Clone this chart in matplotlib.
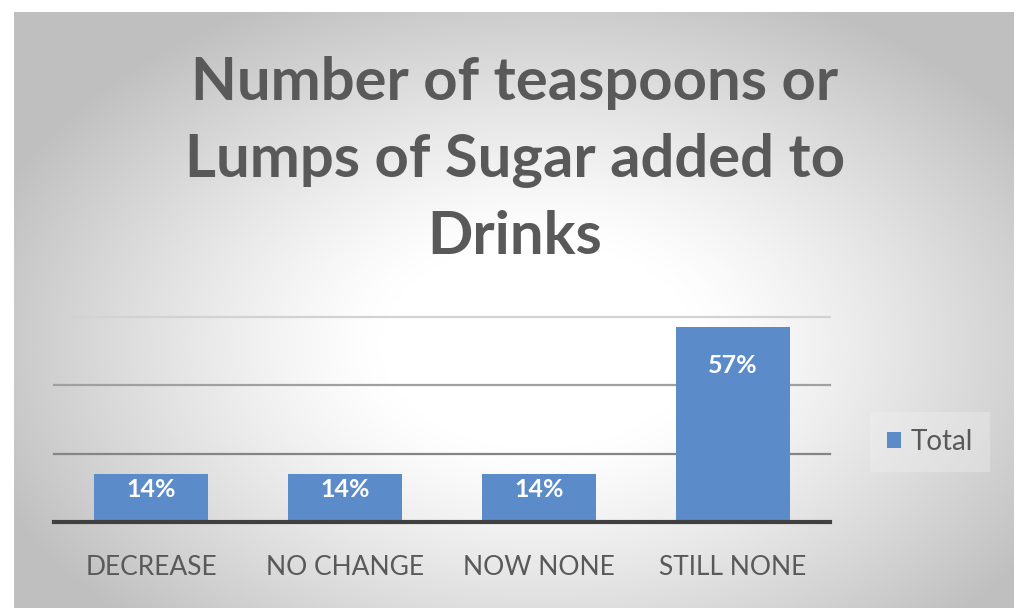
import numpy as np
import matplotlib
matplotlib.use("Agg")
import matplotlib.pyplot as plt

categories = ["DECREASE", "NO CHANGE", "NOW NONE", "STILL NONE"]
values = [14, 14, 14, 57]
labels = ["14%", "14%", "14%", "57%"]
title_lines = ["Number of teaspoons or", "Lumps of Sugar added to", "Drinks"]
series_name = "Total"

W, H, DPI = 1026, 615, 100
fig = plt.figure(figsize=(W / DPI, H / DPI), dpi=DPI)
fig.patch.set_facecolor("white")

# background panel with radial gradient
px0, py0, px1, py1 = 14, 12, 1013, 608
bg = fig.add_axes([px0 / W, 1 - py1 / H, (px1 - px0) / W, (py1 - py0) / H])
bg.set_axis_off()
nx, ny = 400, 240
xx, yy = np.meshgrid(np.linspace(-1, 1, nx), np.linspace(-1, 1, ny))
r = np.sqrt(((xx - 0.05) / 1.0) ** 2 + ((yy - 0.12) / 1.1) ** 2)
v = 1.0 - 0.30 * np.clip(r - 0.32, 0, None) ** 1.2
v = np.clip(v, 0.75, 1.0)
img = np.dstack([v, v, v])
bg.imshow(img, aspect="auto", extent=[0, 1, 0, 1], origin="upper")
bg.set_xlim(0, 1)
bg.set_ylim(0, 1)

# main axes
ax_x0, ax_x1 = 54, 830
ax_y0, ax_y1 = 317, 522  # top (60%) and bottom (0)
ax = fig.add_axes([ax_x0 / W, 1 - ax_y1 / H, (ax_x1 - ax_x0) / W, (ax_y1 - ax_y0) / H])
ax.patch.set_alpha(0)
x = np.arange(len(categories))
bars = ax.bar(x, values, width=0.59, color="#5b8bc8", zorder=3, label=series_name)
ax.set_xlim(-0.5, len(categories) - 0.5)
ax.set_ylim(0, 60)
for b in bars:
    b.set_clip_on(False)

gcolors = {20: "#858585", 40: "#a0a0a0", 60: "#d2d2d2"}
for yv, c in gcolors.items():
    ax.axhline(yv, color=c, lw=1.6, zorder=1, clip_on=False)
ax.axhline(0, color="#404040", lw=3, zorder=4, clip_on=False)

for s in ax.spines.values():
    s.set_visible(False)
ax.set_yticks([])
ax.set_xticks(x)
ax.set_xticklabels(categories, fontsize=19, color="#595959", family="Lato")
ax.tick_params(axis="x", length=0, pad=24)

label_offsets = [-3, -3, -3, -19]
for b, lab, off in zip(bars, labels, label_offsets):
    ax.annotate(lab, (b.get_x() + b.get_width() / 2, b.get_height()),
                xytext=(0, off), textcoords="offset points", ha="center", va="top",
                color="white", fontsize=18, fontweight="bold", family="Lato", zorder=5)

# title
baselines = [100, 177, 254]
for line, yb in zip(title_lines, baselines):
    fig.text(515 / W, 1 - yb / H, line, ha="center", va="baseline", fontsize=43,
             fontweight="bold", color="#595959", family="Lato")

# legend
leg = fig.legend(handles=[bars[0]], labels=[series_name], loc="center",
                 bbox_to_anchor=(930 / W, 1 - 442 / H), frameon=True,
                 prop={"family": "Lato", "size": 20}, handlelength=0.5,
                 handleheight=0.5, handletextpad=0.35, borderpad=0.6)
leg.get_frame().set_facecolor("#f2f2f2")
leg.get_frame().set_edgecolor("none")
leg.get_frame().set_alpha(0.35)
leg.get_frame().set_boxstyle("square", pad=0)
for t in leg.get_texts():
    t.set_color("#595959")

fig.savefig("out.png", dpi=DPI)
